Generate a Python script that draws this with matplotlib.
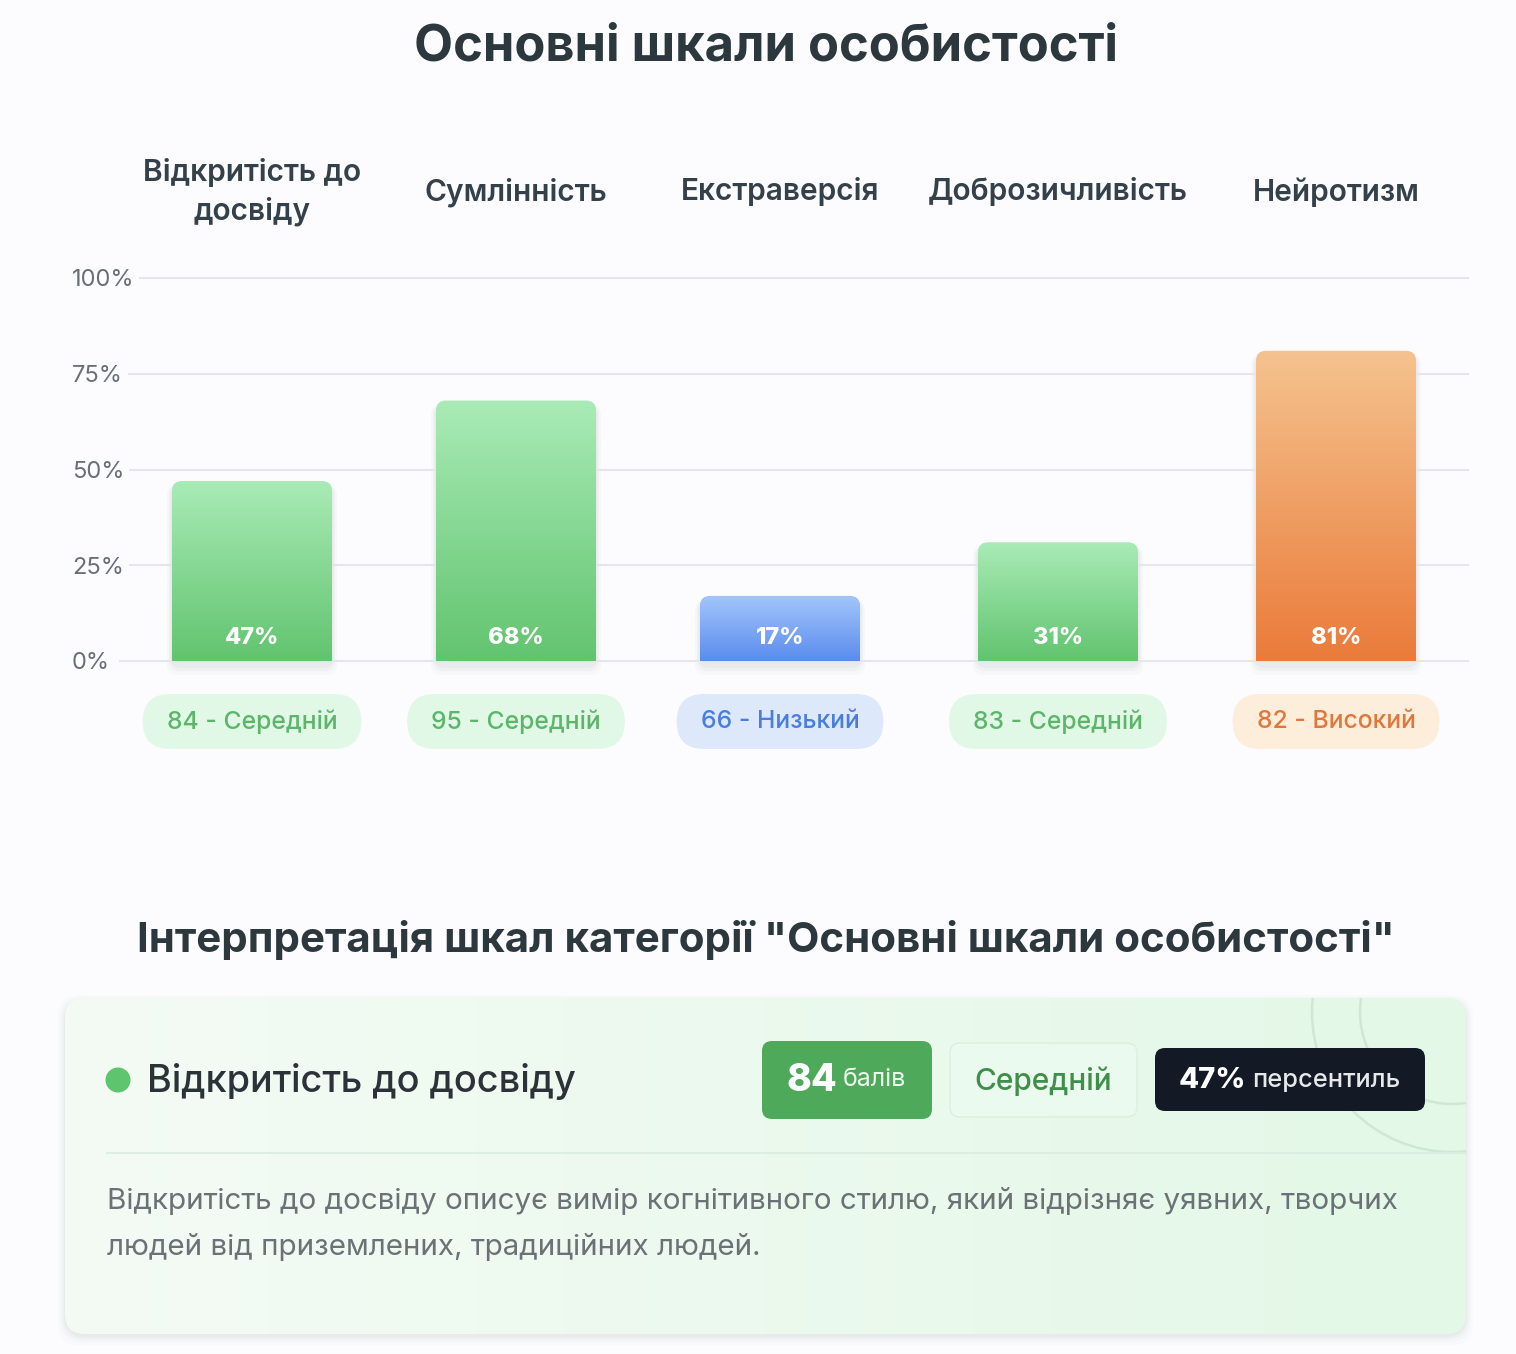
import numpy as np
import matplotlib
matplotlib.use('Agg')
import matplotlib.pyplot as plt
import matplotlib.transforms as mtransforms
from matplotlib.patches import FancyBboxPatch, Circle, PathPatch
from matplotlib.path import Path

plt.rcParams['font.family'] = ['Inter', 'DejaVu Sans']

# ---- data ----
categories = ['Відкритість до\nдосвіду', 'Сумлінність', 'Екстраверсія',
              'Доброзичливість', 'Нейротизм']
percentiles = [47, 68, 17, 31, 81]
scores = [84, 95, 66, 83, 82]
levels = ['Середній', 'Середній', 'Низький', 'Середній', 'Високий']
y_ticks = [0, 25, 50, 75, 100]

card_scale = 'Відкритість до досвіду'
card_score = 84
card_level = 'Середній'
card_pct = 47
card_text = ['Відкритість до досвіду описує вимір когнітивного стилю, який відрізняє уявних, творчих',
             'людей від приземлених, традиційних людей.']

TITLE = 'Основні шкали особистості'
SUBTITLE = 'Інтерпретація шкал категорії "Основні шкали особистості"'

# ---- style ----
PALETTE = {
    'Середній': dict(top='#a9ebb7', bottom='#62c46f', pill='#e2f8e6', text='#5bb669'),
    'Низький': dict(top='#a3c6fa', bottom='#5a8cee', pill='#dde8fb', text='#4a7de0'),
    'Високий': dict(top='#f5c38f', bottom='#ea7b3a', pill='#fdeddb', text='#e2773a'),
}
BG = '#fcfcfe'
DARK = '#2c383e'
W, H = 1516, 1354

# column centres (pixels) of the flex layout
bar_x = [252, 516, 780, 1058, 1336]
BAR_W = 160
CH_L, CH_R, CH_Y0, CH_Y100 = 120, 1468, 661, 278


def hex_rgb(c):
    c = c.lstrip('#')
    return np.array([int(c[i:i + 2], 16) / 255 for i in (0, 2, 4)])


def rounded_top(x0, x1, top, rx, ry):
    verts = [(x0, 0), (x0, top - ry), (x0, top), (x0 + rx, top),
             (x1 - rx, top), (x1, top), (x1, top - ry), (x1, 0), (x0, 0)]
    codes = [Path.MOVETO, Path.LINETO, Path.CURVE3, Path.CURVE3,
             Path.LINETO, Path.CURVE3, Path.CURVE3, Path.LINETO, Path.CLOSEPOLY]
    return Path(verts, codes)


fig = plt.figure(figsize=(W / 100, H / 100), dpi=100)
fig.patch.set_facecolor(BG)
canvas = fig.add_axes([0, 0, 1, 1], zorder=0)
canvas.set_xlim(0, W)
canvas.set_ylim(H, 0)
canvas.axis('off')

ax = fig.add_axes([CH_L / W, 1 - CH_Y0 / H, (CH_R - CH_L) / W, (CH_Y0 - CH_Y100) / H], zorder=1)
ax.patch.set_alpha(0)
for s in ax.spines.values():
    s.set_visible(False)
ax.set_xticks([])
ax.set_yticks([])
px_per_unit = (CH_Y0 - CH_Y100) / 100

# titles
canvas.text(766, 47, TITLE, ha='center', va='center', fontsize=36.5, fontweight='bold', color=DARK)
canvas.text(766, 940, SUBTITLE, ha='center', va='center', fontsize=30.3, fontweight='bold', color=DARK)

# grid + y labels
blend = mtransforms.blended_transform_factory(canvas.transData, ax.transData)
for t in y_ticks:
    ax.plot([CH_L, CH_R], [t, t], color='#e5e6ea', lw=1.5, clip_on=False, zorder=0)
    ax.text(72, t - 0.6, f'{t}%', transform=blend, ha='left', va='center', fontsize=17,
            color='#6a6f76', zorder=1,
            bbox=dict(boxstyle='square,pad=0.2', fc=BG, ec='none'))

# category headers
for xc, cat in zip(bar_x, categories):
    canvas.text(xc, 192, cat, ha='center', va='center', fontsize=21.5, fontweight='semibold',
                color='#34414a', linespacing=1.4)

# bars with gradient
ramp = np.linspace(0, 1, 256)[:, None, None]
for xc, v, lvl in zip(bar_x, percentiles, levels):
    pal = PALETTE[lvl]
    x0, x1 = xc - BAR_W / 2, xc + BAR_W / 2
    # soft shadow
    for k, a in [(10, 0.025), (6, 0.03), (3, 0.04)]:
        canvas.add_patch(FancyBboxPatch((x0 - k / 2, CH_Y0 - v * px_per_unit + 4), BAR_W + k, v * px_per_unit + k,
                                        boxstyle='round,pad=0,rounding_size=10', fc='#30403a',
                                        ec='none', alpha=a, zorder=1))
    img = hex_rgb(pal['top']) * (1 - ramp) + hex_rgb(pal['bottom']) * ramp
    img = np.repeat(img, 2, axis=1)
    im = ax.imshow(img, extent=[x0, x1, 0, v], aspect='auto', origin='upper', zorder=2)
    clip = PathPatch(rounded_top(x0, x1, v, 10, 10 / px_per_unit), fc='none', ec='none',
                     transform=ax.transData)
    ax.add_patch(clip)
    im.set_clip_path(clip)
    ax.text(xc, 6, f'{v}%', ha='center', va='center', fontsize=17, fontweight=800,
            color='white', zorder=3)

ax.set_xlim(CH_L, CH_R)
ax.set_ylim(0, 100)

# level pills
renderer = fig.canvas.get_renderer()
for xc, sc, lvl in zip(bar_x, scores, levels):
    pal = PALETTE[lvl]
    t = canvas.text(xc, 722, f'{sc} - {lvl}', ha='center', va='center', fontsize=17.8,
                    fontweight='medium', color=pal['text'], zorder=3)
    bb = t.get_window_extent(renderer)
    pw = bb.width + 48
    canvas.add_patch(FancyBboxPatch((xc - pw / 2, 694), pw, 55,
                                    boxstyle='round,pad=0,rounding_size=27.5',
                                    fc=pal['pill'], ec='none', zorder=2))

# ---- interpretation card ----
cx0, cy0, cw, ch = 65, 998, 1401, 336
for k, a in [(14, 0.015), (9, 0.02), (5, 0.025), (2, 0.03)]:
    canvas.add_patch(FancyBboxPatch((cx0 - k / 2, cy0 - k / 3 + 2), cw + k, ch + k,
                                    boxstyle='round,pad=0,rounding_size=22', fc='#2c4a33',
                                    ec='none', alpha=a, zorder=1))
card = FancyBboxPatch((cx0, cy0), cw, ch, boxstyle='round,pad=0,rounding_size=20',
                      fc='none', ec='none', zorder=2)
canvas.add_patch(card)
hramp = np.linspace(0, 1, 256)[None, :, None]
cimg = hex_rgb('#f4fbf5') * (1 - hramp) + hex_rgb('#e3f8e7') * hramp
cimg = np.repeat(cimg, 2, axis=0)
cim = canvas.imshow(cimg, extent=[cx0, cx0 + cw, cy0 + ch, cy0], aspect='auto', zorder=2)
cim.set_clip_path(card)
for r in (140, 92):
    c = Circle((1452, 1012), r, fc='none', ec='#cfe7d3', lw=1.8, zorder=2.5)
    canvas.add_patch(c)
    c.set_clip_path(card)
canvas.set_xlim(0, W)
canvas.set_ylim(H, 0)

canvas.add_patch(Circle((118, 1080), 12.5, fc='#5ec46d', ec='none', zorder=3))
canvas.text(147, 1081, card_scale, ha='left', va='center', fontsize=27.3, fontweight='medium',
            color='#2b3338', zorder=3)

canvas.add_patch(FancyBboxPatch((762, 1041), 170, 78, boxstyle='round,pad=0,rounding_size=10',
                                fc='#4ea95b', ec='none', zorder=3))
canvas.text(786, 1081, f'{card_score}', ha='left', va='center', fontsize=27, fontweight=800,
            color='white', zorder=4)
canvas.text(843, 1080, 'балів', ha='left', va='center', fontsize=18, color='#eef8ef', zorder=4)

canvas.add_patch(FancyBboxPatch((950, 1043), 187, 74, boxstyle='round,pad=0,rounding_size=10',
                                fc='#ebfaee', ec='#dcf1e0', lw=1.2, zorder=3))
canvas.text(1043.5, 1081, card_level, ha='center', va='center', fontsize=21.5,
            color='#3f8e4a', fontweight='medium', zorder=4)

canvas.add_patch(FancyBboxPatch((1155, 1048), 270, 63, boxstyle='round,pad=0,rounding_size=10',
                                fc='#141a25', ec='none', zorder=3))
canvas.text(1179, 1081, f'{card_pct}%', ha='left', va='center', fontsize=21, fontweight=800,
            color='white', zorder=4)
canvas.text(1252, 1080, 'персентиль', ha='left', va='center', fontsize=18.3, fontweight='medium',
            color='#e6e8ec', zorder=4)

canvas.plot([107, 1466], [1153, 1153], color='#dceee0', lw=1.5, zorder=3)
for i, line in enumerate(card_text):
    canvas.text(107, 1201 + 46 * i, line, ha='left', va='center', fontsize=21.3,
                color='#6b7177', zorder=3)

fig.savefig('out.png', dpi=100, facecolor=BG)
